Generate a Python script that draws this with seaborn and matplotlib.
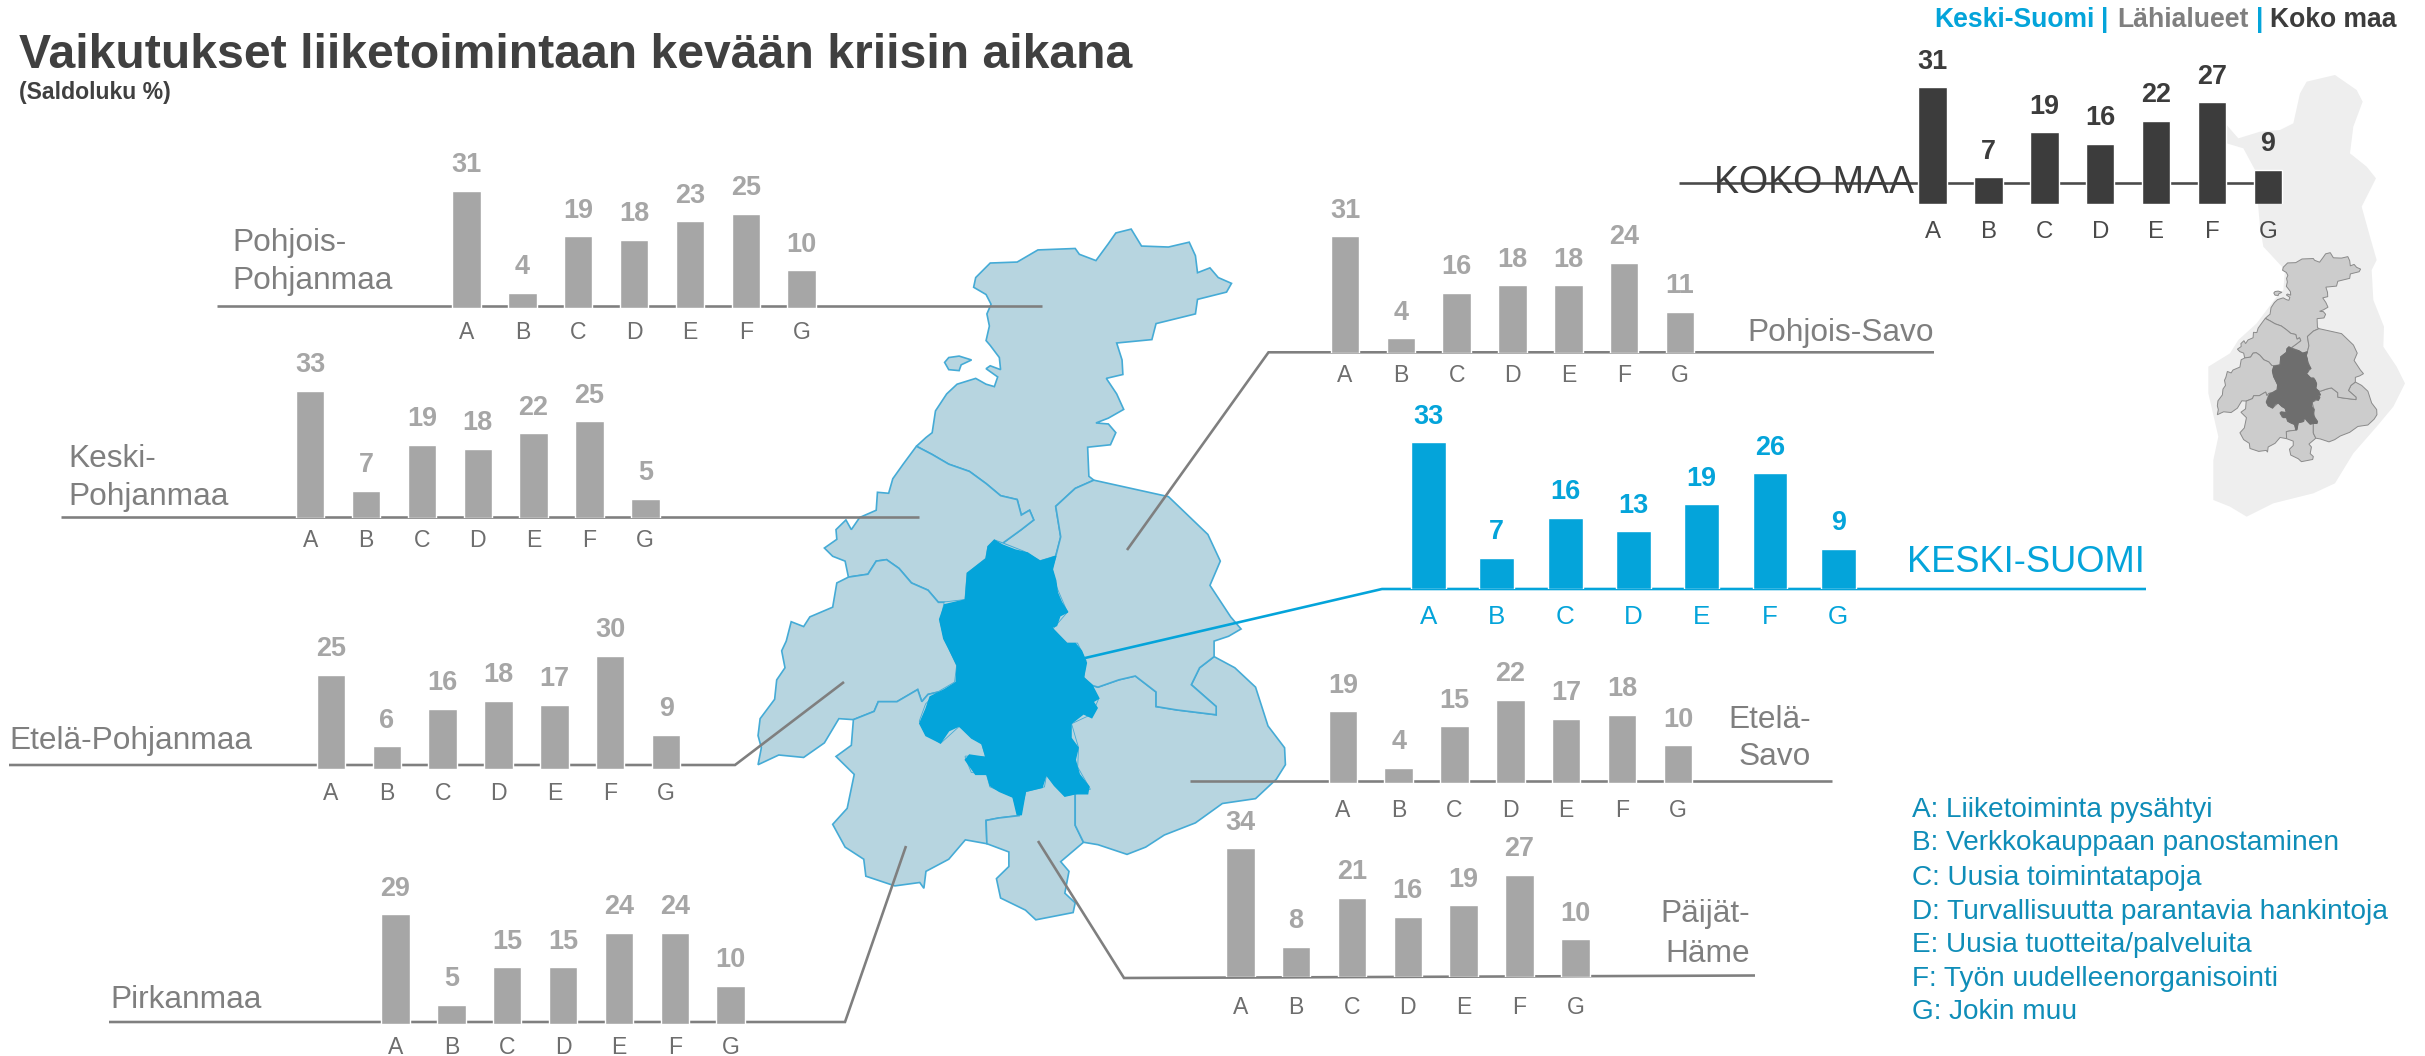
# -*- coding: utf-8 -*-
"""Vaikutukset liiketoimintaan: small bar panels around a regional map."""
import matplotlib; matplotlib.use("Agg")
import matplotlib.pyplot as plt
import numpy as np
import pandas as pd
import seaborn as sns
from matplotlib.patches import Polygon

W, H = 2425, 1056

CATEGORIES = ["A", "B", "C", "D", "E", "F", "G"]

POHJOIS_POHJANMAA = [31, 4, 19, 18, 23, 25, 10]
KESKI_POHJANMAA = [33, 7, 19, 18, 22, 25, 5]
ETELA_POHJANMAA = [25, 6, 16, 18, 17, 30, 9]
PIRKANMAA = [29, 5, 15, 15, 24, 24, 10]
POHJOIS_SAVO = [31, 4, 16, 18, 18, 24, 11]
KESKI_SUOMI = [33, 7, 16, 13, 19, 26, 9]
ETELA_SAVO = [19, 4, 15, 22, 17, 18, 10]
PAIJAT_HAME = [34, 8, 21, 16, 19, 27, 10]
KOKO_MAA = [31, 7, 19, 16, 22, 27, 9]

LEGEND_LINES = [
    "A: Liiketoiminta pysähtyi",
    "B: Verkkokauppaan panostaminen",
    "C: Uusia toimintatapoja",
    "D: Turvallisuutta parantavia hankintoja",
    "E: Uusia tuotteita/palveluita",
    "F: Työn uudelleenorganisointi",
    "G: Jokin muu",
]

GRAY = "#A6A6A6"
LINE_GRAY = "#7F7F7F"
TICK_GRAY = "#6E6E6E"
BLUE = "#04A4DA"
DARK = "#3C3C3C"
MAP_FILL = "#B7D5E0"
MAP_EDGE = "#45ABD6"
LEGEND_BLUE = "#0F8DB8"

# region outlines, traced by hand (decoration, not data)
NORTH = [(522,508),(545,490),(560,480),(568,435),(595,400),(620,380),(665,368),(690,380),(710,385),(718,365),(690,348),(700,342),(725,350),(722,325),(700,300),(690,290),(698,260),(692,235),(702,215),(690,195),(660,180),(665,160),(700,130),(765,128),(815,103),(905,100),(915,112),(955,125),(985,90),(1003,68),(1040,60),(1065,95),(1130,97),(1180,87),(1195,115),(1200,150),(1230,140),(1250,160),(1282,172),(1270,190),(1200,205),(1195,235),(1100,255),(1090,288),(1005,295),(1018,330),(1020,360),(980,368),(1005,400),(1022,432),(985,450),(955,460),(985,462),(1003,480),(990,505),(935,510),(938,570),(950,578),(905,595),(858,632),(870,695),(858,735),(820,745),(780,725),(730,708),(775,680),(805,660),(795,640),(775,650),(765,618),(725,610),(690,585),(650,560),(600,545),(560,525)]
KP = [(522,508),(490,545),(465,575),(455,605),(428,603),(425,640),(385,655),(365,680),(352,660),(328,680),(330,700),(300,718),(320,735),(350,745),(358,778),(405,772),(425,745),(450,742),(480,760),(510,790),(550,805),(575,830),(590,830),(640,825),(645,770),(690,740),(695,715),(710,702),(730,708),(775,680),(805,660),(795,640),(775,650),(765,618),(725,610),(690,585),(650,560),(600,545),(560,525)]
EP = [(358,778),(330,790),(320,840),(265,860),(250,880),(220,870),(208,910),(197,930),(205,965),(185,990),(180,1030),(145,1070),(140,1105),(148,1130),(140,1165),(190,1145),(250,1150),(300,1120),(335,1070),(370,1072),(420,1055),(430,1035),(475,1035),(525,1010),(535,1035),(550,1020),(575,1015),(615,995),(620,960),(590,905),(580,870),(590,830),(575,830),(550,805),(510,790),(480,760),(450,742),(425,745),(405,772)]
PIRK = [(370,1072),(365,1125),(328,1148),(372,1185),(355,1255),(320,1288),(350,1335),(395,1360),(400,1395),(470,1415),(530,1408),(540,1420),(545,1385),(600,1360),(640,1320),(692,1328),(690,1280),(720,1275),(770,1270),(755,1230),(700,1210),(692,1185),(655,1180),(640,1148),(690,1150),(680,1120),(625,1085),(580,1120),(545,1100),(530,1075),(545,1040),(575,1015),(550,1020),(535,1035),(525,1010),(475,1035),(430,1035),(420,1055)]
PH = [(692,1328),(745,1345),(745,1375),(715,1400),(725,1440),(785,1465),(810,1485),(900,1470),(905,1450),(880,1430),(890,1385),(870,1365),(925,1325),(905,1290),(905,1225),(880,1228),(855,1205),(835,1185),(830,1210),(785,1220),(770,1270),(720,1275),(690,1280)]
ES = [(905,1225),(940,1215),(910,1170),(912,1130),(895,1080),(945,1060),(960,1030),(940,1000),(960,1005),(1010,990),(1050,982),(1100,1015),(1100,1045),(1150,1052),(1245,1062),(1245,1045),(1185,1000),(1205,965),(1240,942),(1290,965),(1340,1005),(1370,1085),(1410,1130),(1412,1165),(1390,1195),(1340,1235),(1260,1245),(1195,1285),(1120,1310),(1075,1335),(1030,1350),(960,1330),(925,1325),(905,1290)]
PS = [(950,578),(1040,595),(1130,612),(1225,690),(1255,745),(1230,795),(1280,860),(1305,885),(1275,900),(1240,910),(1240,942),(1205,965),(1185,1000),(1245,1045),(1245,1062),(1150,1052),(1100,1045),(1100,1015),(1050,982),(1010,990),(960,1005),(940,1000),(925,985),(930,950),(910,915),(885,915),(850,885),(885,850),(860,800),(848,760),(858,735),(870,695),(858,632),(905,595)]
# coarse shape under Keski-Suomi so no sliver shows between neighbours
KS_BACK = [(710,702),(780,725),(820,745),(858,735),(848,760),(860,800),(885,850),(850,885),(885,915),(910,915),(930,950),(925,985),(940,1000),(960,1030),(945,1060),(895,1080),(912,1130),(910,1170),(940,1215),(905,1225),(880,1228),(855,1205),(835,1185),(830,1210),(785,1220),(770,1270),(755,1230),(700,1210),(692,1185),(655,1180),(640,1148),(690,1150),(680,1120),(625,1085),(580,1120),(545,1100),(530,1075),(545,1040),(575,1015),(615,995),(620,960),(590,905),(580,870),(590,830),(640,825),(645,770),(690,740),(695,715)]
KS = [(710,702),(730,712),(760,722),(790,728),(820,745),(840,740),(858,735),(850,762),(858,785),(862,810),(872,830),(887,850),(868,858),(860,878),(848,882),(868,900),(885,915),(905,915),(920,930),(932,955),(925,985),(945,1000),(962,1028),(948,1035),(958,1048),(945,1068),(925,1060),(895,1080),(895,1110),(912,1130),(905,1155),(915,1185),(938,1210),(935,1225),(905,1225),(880,1230),(855,1208),(835,1185),(825,1212),(785,1220),(775,1268),(765,1268),(755,1232),(722,1220),(700,1208),(692,1185),(665,1185),(640,1155),(650,1145),(690,1150),(680,1122),(655,1110),(625,1085),(600,1095),(580,1120),(545,1105),(530,1080),(545,1050),(555,1025),(590,1010),(618,995),(620,960),(600,925),(588,905),(578,865),(590,835),(640,825),(645,770),(690,740),(695,715)]
ISLAND = [(590,335),(600,325),(625,322),(655,330),(630,340),(625,352),(600,350)]
FINLAND = [(465,45),(530,90),(548,125),(520,200),(510,280),(560,320),(588,355),(545,440),(570,530),(590,600),(575,630),(580,720),(612,800),(610,860),(650,920),(675,970),(640,1040),(590,1100),(520,1180),(465,1270),(400,1300),(280,1330),(200,1370),(150,1340),(100,1320),(100,1200),(115,1130),(85,1000),(85,920),(150,880),(175,840),(230,790),(290,710),(310,690),(315,630),(250,560),(240,500),(225,330),(190,265),(140,250),(140,195),(175,235),(240,215),(300,210),(340,190),(360,100),(380,65)]


def big_map_xy(points):
    pts = np.array(points, dtype=float)
    return np.c_[700 + pts[:, 0] / 2.412, 200 + pts[:, 1] / 2.063]


def mini_map_xy(points):
    pts = np.array(points, dtype=float)
    return np.c_[2180 + (112 + (pts[:, 0] - 140) * 0.3764) / 3, 60 + (578 + (pts[:, 1] - 60) * 0.44) / 3]


def px(size):
    return size * 0.72


def draw_panel(fig, values, x_a, bar_bottom, color, tick_color, spacing=55.85, ppu=3.78, width=0.51, val_size=27, tick_size=23, tick_gap=21, val_gap=12.5):
    ax = fig.add_axes([(x_a - 0.5 * spacing) / W, 1 - bar_bottom / H, 7 * spacing / W, 40 * ppu / H])
    ax.patch.set_visible(False)
    df = pd.DataFrame({"category": CATEGORIES, "value": values})
    sns.barplot(data=df, x="category", y="value", color=color, saturation=1, width=width, ax=ax)
    ax.set_ylim(0, 40)
    ax.set_xlim(-0.5, 6.5)
    ax.set_xlabel("")
    ax.set_ylabel("")
    ax.set_yticks([])
    ax.tick_params(axis="x", length=0, pad=px(tick_gap - 0.36 * tick_size), labelsize=px(tick_size), labelcolor=tick_color)
    sns.despine(ax=ax, left=True, bottom=True)
    ax.bar_label(ax.containers[0], padding=px(val_gap), fontsize=px(val_size), fontweight="bold", color=color)
    return ax


def draw_map(bg):
    bg.add_patch(Polygon(np.c_[2180 + np.array(FINLAND)[:, 0] / 3, 60 + np.array(FINLAND)[:, 1] / 3], closed=True, fc="#EEEEEE", ec="none"))
    for poly in [NORTH, KP, EP, PIRK, PH, ES, PS, ISLAND]:
        bg.add_patch(Polygon(big_map_xy(poly), closed=True, fc=MAP_FILL, ec=MAP_EDGE, lw=1.2))
        bg.add_patch(Polygon(mini_map_xy(poly), closed=True, fc="#CCCCCC", ec="#8A8A8A", lw=0.7))
    bg.add_patch(Polygon(big_map_xy(KS_BACK), closed=True, fc=MAP_FILL, ec="none"))
    bg.add_patch(Polygon(big_map_xy(KS), closed=True, fc=BLUE, ec=BLUE, lw=1))
    bg.add_patch(Polygon(mini_map_xy(KS), closed=True, fc="#6E6E6E", ec="#6E6E6E", lw=0.7))


def main():
    sns.set_theme(style="white")
    plt.rcParams["font.family"] = ["Liberation Sans", "DejaVu Sans"]
    fig = plt.figure(figsize=(W / 100, H / 100), dpi=100)

    bg = fig.add_axes([0, 0, 1, 1])
    bg.set_xlim(0, W)
    bg.set_ylim(H, 0)
    bg.axis("off")
    draw_map(bg)

    def line(xs, ys, color=LINE_GRAY, lw=2.6):
        bg.plot(xs, ys, color=color, lw=px(lw), solid_capstyle="butt", solid_joinstyle="miter")

    def label(x, y, s, color=LINE_GRAY, size=31.6, ha="left", weight="normal"):
        bg.text(x, y, s, color=color, fontsize=px(size), ha=ha, va="center", fontweight=weight)

    # connector / base lines
    line([217, 1042], [306, 306])
    line([61, 919], [517, 517])
    line([9, 735, 844], [765, 765, 682])
    line([109, 845, 906], [1022, 1022, 846])
    line([1127, 1268.5, 1934], [550, 352.3, 352.3])
    line([1190, 1832], [780.5, 780.5])
    line([1038, 1124, 1755], [841, 978, 975.5])
    line([1085, 1382, 2146], [658, 589, 589], color=BLUE)
    line([1679, 2270], [183, 183], color="#4A4A4A")

    draw_panel(fig, POHJOIS_POHJANMAA, 466.5, 308, GRAY, TICK_GRAY)
    draw_panel(fig, KESKI_POHJANMAA, 310.2, 518, GRAY, TICK_GRAY, ppu=3.86, tick_gap=19)
    draw_panel(fig, ETELA_POHJANMAA, 331, 769, GRAY, TICK_GRAY)
    draw_panel(fig, PIRKANMAA, 395.5, 1023.7, GRAY, TICK_GRAY)
    draw_panel(fig, POHJOIS_SAVO, 1345, 353.3, GRAY, TICK_GRAY, tick_gap=19)
    draw_panel(fig, ETELA_SAVO, 1342.8, 783, GRAY, TICK_GRAY, tick_gap=24)
    draw_panel(fig, PAIJAT_HAME, 1240.3, 977, GRAY, TICK_GRAY, tick_gap=27)
    draw_panel(fig, KESKI_SUOMI, 1428.5, 589, BLUE, BLUE, spacing=68.3, ppu=4.45, val_size=27, tick_size=26, tick_gap=25)
    draw_panel(fig, KOKO_MAA, 1932.7, 203.7, DARK, "#4A4A4A", ppu=3.76, val_size=27, tick_size=24, tick_gap=26)

    label(232.5, 243, "Pohjois-")
    label(232.5, 281, "Pohjanmaa")
    label(68, 459, "Keski-")
    label(68, 497, "Pohjanmaa")
    label(9, 741, "Etelä-Pohjanmaa")
    label(110, 1000, "Pirkanmaa")
    label(1933.5, 333, "Pohjois-Savo", ha="right")
    label(1811, 720, "Etelä-", ha="right")
    label(1811, 757, "Savo", ha="right")
    label(1750, 914, "Päijät-", ha="right")
    label(1750, 953.6, "Häme", ha="right")
    label(2145, 562, "KESKI-SUOMI", color=BLUE, size=36.3, ha="right")
    label(1714, 183, "KOKO MAA", color=DARK, size=37.5)

    label(19, 55, "Vaikutukset liiketoimintaan kevään kriisin aikana", color="#404040", size=48.1, weight="bold")
    label(19, 92, "(Saldoluku %)", color="#404040", size=23, weight="bold")

    label(1934, 20, "Keski-Suomi", color=BLUE, size=26.5, weight="bold")
    label(2101, 20, "|", color=BLUE, size=26.5, weight="bold")
    label(2117, 20, "Lähialueet", color=LINE_GRAY, size=26.5, weight="bold")
    label(2256, 20, "|", color=BLUE, size=26.5, weight="bold")
    label(2270, 20, "Koko maa", color=DARK, size=26.5, weight="bold")

    for text, y in zip(LEGEND_LINES, [810, 843, 878, 912, 945.5, 979, 1012]):
        label(1912, y, text, color=LEGEND_BLUE, size=28)

    fig.savefig("out.png", dpi=100)
    plt.close(fig)


if __name__ == "__main__":
    main()
